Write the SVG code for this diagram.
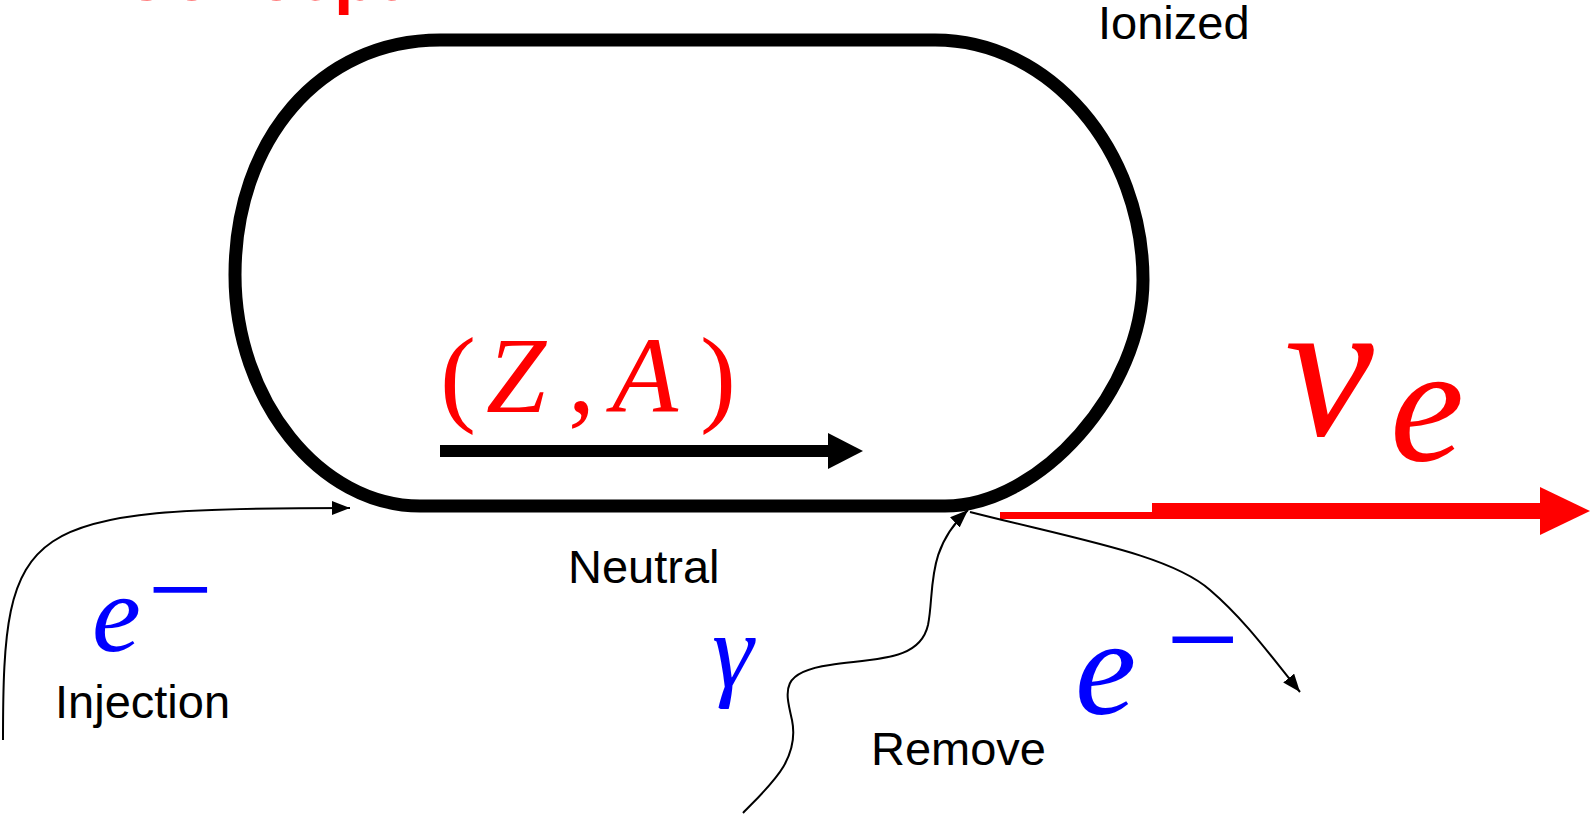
<svg xmlns="http://www.w3.org/2000/svg" width="1590" height="817" viewBox="0 0 1590 817">
<defs>
<style>
.lbl{font-family:"Liberation Sans",Arial,sans-serif;font-size:47px;fill:#000}
.math{font-family:"Liberation Serif","Times New Roman",serif;font-style:italic}
.up{font-family:"Liberation Serif","Times New Roman",serif;font-style:normal}
.thin{fill:none;stroke:#000;stroke-width:2}
</style>
<marker id="ah" markerUnits="userSpaceOnUse" markerWidth="20" markerHeight="16" refX="18" refY="7" orient="auto">
<path d="M0,0 L18,7 L0,14 Z" fill="#000"/>
</marker>
</defs>
<rect width="1590" height="817" fill="#fff"/>
<text x="120" y="0" font-family="Liberation Sans,Arial,sans-serif" font-weight="bold" font-size="70" fill="#ff0000">Concept</text>
<g id="ring">
<path d="M440 40 L935 40 C1050 40 1143 150 1143 280 C1143 390 1040 506 945 506 L420 506 C320 506 235 400 235 275 C235 140 320 40 440 40 Z" fill="none" stroke="#000" stroke-width="13"/>
</g>
<g id="labels">
<text class="lbl" x="1098" y="39">Ionized</text>
<text class="lbl" x="568" y="583">Neutral</text>
<text class="lbl" x="55" y="718">Injection</text>
<text class="lbl" x="871" y="765">Remove</text>
</g>
<g id="ion-beam">
<text font-size="108" fill="#ff0000"><tspan class="up" x="440" y="412">(</tspan><tspan class="math" x="486" y="412">Z</tspan><tspan class="up" x="568" y="412">,</tspan><tspan class="math" x="612" y="412">A</tspan><tspan class="up" x="700" y="412">)</tspan></text>
<rect x="440" y="445" width="392" height="12" fill="#000"/>
<polygon points="828,433 863,451 828,469" fill="#000"/>
</g>
<g id="neutrino">
<text class="math" x="1285" y="435" font-size="200" fill="#ff0000">ν</text>
<text class="math" x="1390" y="460" font-size="167" fill="#ff0000">e</text>
<rect x="1000" y="512" width="155" height="7" fill="#ff0000"/>
<rect x="1152" y="503" width="392" height="16" fill="#ff0000"/>
<polygon points="1540,487 1590,511 1540,535" fill="#ff0000"/>
</g>
<g id="e-injection">
<text class="math" x="92" y="651" font-size="110" fill="#0000ff">e</text>
<text class="up" x="148" y="628" font-size="115" fill="#0000ff">−</text>
</g>
<g id="gamma">
<text class="math" x="712" y="686" font-size="105" fill="#0000ff">γ</text>
</g>
<g id="e-removed">
<text class="math" x="1075" y="714" font-size="138" fill="#0000ff">e</text>
<text class="up" x="1166" y="683" font-size="130" fill="#0000ff">−</text>
</g>
<g id="connectors">
<path class="thin" d="M3 740 C3 520 20 508 350 508" marker-end="url(#ah)"/>
<path class="thin" d="M743 813 C770 785 800 760 792 720 C785 690 780 672 830 665 C880 658 920 660 928 625 C935 590 925 550 968 510" marker-end="url(#ah)"/>
<path class="thin" d="M970 512 C1080 540 1170 555 1210 590 C1245 620 1270 655 1300 692" marker-end="url(#ah)"/>
</g>
</svg>
